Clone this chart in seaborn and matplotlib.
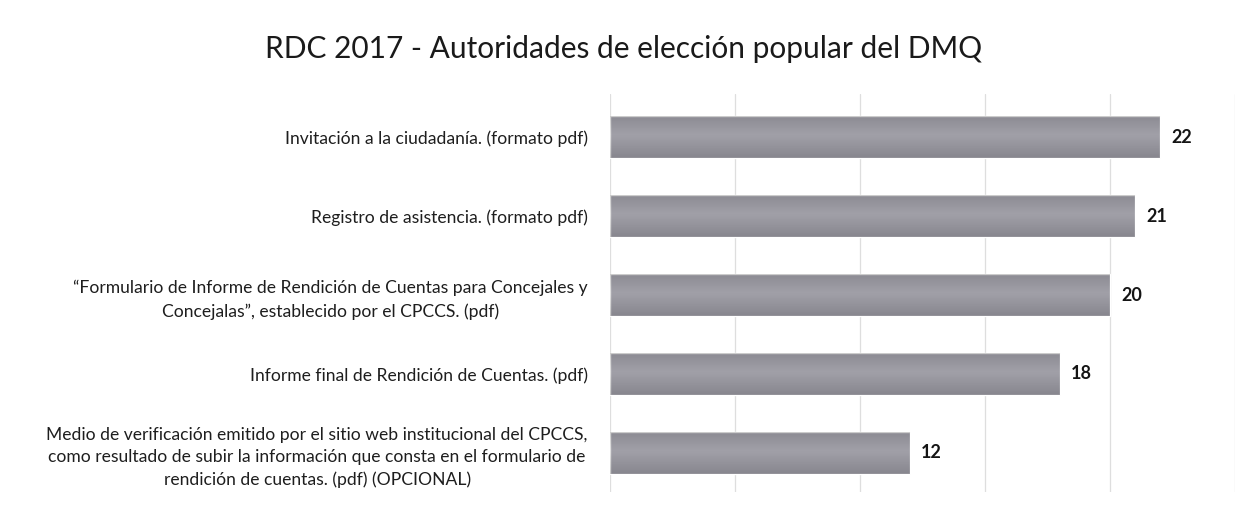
import numpy as np
import pandas as pd
import matplotlib
matplotlib.use("Agg")
import matplotlib.pyplot as plt
import seaborn as sns

categories = [
    "Invitación a la ciudadanía. (formato pdf)",
    "Registro de asistencia. (formato pdf)",
    "\u201cFormulario de Informe de Rendición de Cuentas para Concejales y\nConcejalas\u201d, establecido por el CPCCS. (pdf)",
    "Informe final de Rendición de Cuentas. (pdf)",
    "Medio de verificación emitido por el sitio web institucional del CPCCS,\ncomo resultado de subir la información que consta en el formulario de\nrendición de cuentas. (pdf) (OPCIONAL)",
]
values = [22, 21, 20, 18, 12]

df = pd.DataFrame({"Item": categories, "Total": values})

sns.set_theme(style="white")
plt.rcParams["font.family"] = ["Lato", "DejaVu Sans"]

fig = plt.figure(figsize=(12.48, 5.11), dpi=100)
ax = fig.add_axes([0.4888, 0.037, 0.5008, 0.779])

sns.barplot(data=df, x="Total", y="Item", color="#807e8e", width=0.53,
            saturation=1, ax=ax)

# soft vertical shading on each bar
grad = np.linspace(0, 1, 64).reshape(-1, 1)
grad = 0.35 + 0.65 * (1 - np.abs(grad - 0.45) * 1.6).clip(0, 1)
for p in ax.patches:
    x0, y0 = p.get_x(), p.get_y()
    w, h = p.get_width(), p.get_height()
    im = ax.imshow(grad, cmap="Greys_r", vmin=-1.2, vmax=2.2, aspect="auto",
                   extent=(x0, x0 + w, y0 + h, y0), alpha=0.5, zorder=3)
    im.set_clip_path(p)

ax.set_xlim(0, 25)
ax.set_ylim(len(categories) - 0.5, -0.55)
ax.set_xticks(np.arange(0, 26, 5))
ax.xaxis.grid(True, color="#dedede", linewidth=0.9)
ax.set_axisbelow(True)
ax.tick_params(axis="x", labelbottom=False, length=0)
ax.tick_params(axis="y", length=0, pad=16)
for t in ax.get_yticklabels():
    t.set_multialignment("center")
    t.set_fontsize(12.6)
    t.set_linespacing(1.5)
    t.set_color("#1e1e1e")
for s in ax.spines.values():
    s.set_visible(False)
ax.set_xlabel("")
ax.set_ylabel("")

ax.bar_label(ax.containers[0], padding=8, fontsize=13, fontweight="bold",
             color="#151515")

fig.text(0.5, 1 - 58 / 511, "RDC 2017 - Autoridades de elección popular del DMQ",
         ha="center", va="baseline", fontsize=21.5, color="#1a1a1a")

fig.savefig("out.png", dpi=100)
